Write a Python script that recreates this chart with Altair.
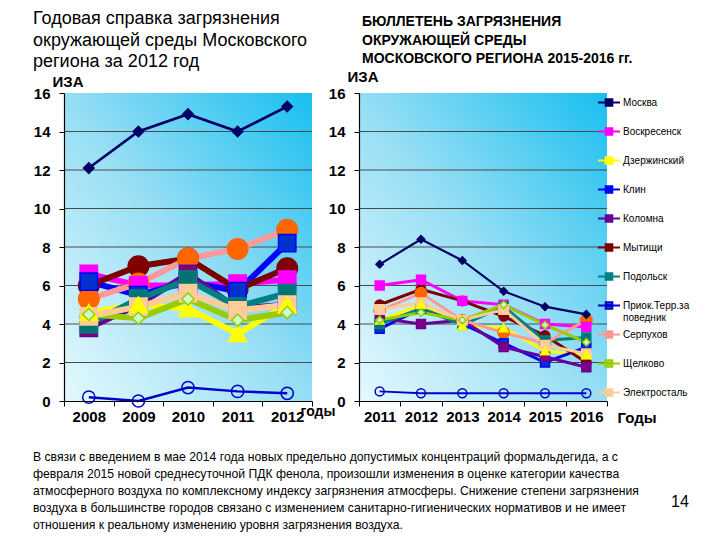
import altair as alt
import pandas as pd

FONT = "Liberation Sans"

series = ["Москва", "Воскресенск", "Дзержинский", "Клин", "Коломна", "Мытищи",
          "Подольск", "Приок.Терр.за поведник", "Серпухов", "Щелково", "Электросталь"]
line_colors = ["#000066", "#ff00ff", "#ffff00", "#0000ff", "#660099", "#7a0000",
               "#008080", "#0000cc", "#ff9999", "#99cc00", "#ffcc99"]
marker_fills = ["#000066", "#ff00ff", "#ffff00", "#0033cc", "#800080", "#800000",
                "#007373", "transparent", "#ff6600", "#ccffcc", "#ffcc99"]
marker_strokes = ["#000066", "#ff00ff", "#ffff00", "#0000ff", "#660099", "#7a0000",
                  "#008080", "#0000cc", "#ff6600", "#99cc00", "#ffcc99"]
shapes = ["diamond", "square", "triangle-up", "square", "square", "circle",
          "square", "circle", "circle", "diamond", "square"]

years_a = ["2008", "2009", "2010", "2011", "2012"]
vals_a = {
    "Москва": [12.1, 14.0, 14.9, 14.0, 15.3],
    "Воскресенск": [6.6, 6.0, 6.0, 6.1, 6.3],
    "Дзержинский": [4.6, 5.0, 4.8, 3.5, 5.0],
    "Клин": [6.2, 5.5, 6.2, 5.7, 8.2],
    "Коломна": [3.8, 5.0, 6.6, 4.8, 5.0],
    "Мытищи": [6.0, 7.0, 7.4, 5.8, 6.9],
    "Подольск": [4.0, 5.3, 6.3, 4.9, 5.6],
    "Приок.Терр.за поведник": [0.2, 0.0, 0.7, 0.5, 0.4],
    "Серпухов": [5.3, 6.1, 7.4, 7.9, 8.9],
    "Щелково": [4.5, 4.3, 5.3, 4.2, 4.6],
    "Электросталь": [4.4, 4.9, 5.6, 4.7, 5.0],
}

years_b = ["2011", "2012", "2013", "2014", "2015", "2016"]
vals_b = {
    "Москва": [7.1, 8.4, 7.3, 5.7, 4.9, 4.5],
    "Воскресенск": [6.0, 6.3, 5.2, 5.0, 4.0, 3.85],
    "Дзержинский": [4.2, 5.0, 3.9, 3.8, 2.6, 2.4],
    "Клин": [3.75, 4.8, 4.0, 3.0, 2.0, 2.8],
    "Коломна": [4.3, 4.0, 4.2, 2.8, 2.3, 1.75],
    "Мытищи": [5.0, 5.8, 5.2, 4.4, 3.4, 2.0],
    "Подольск": [4.0, 4.8, 3.95, 4.9, 3.15, 3.3],
    "Приок.Терр.за поведник": [0.5, 0.4, 0.4, 0.4, 0.4, 0.4],
    "Серпухов": [4.7, 5.6, 4.2, 3.55, 3.0, 4.2],
    "Щелково": [4.2, 4.6, 4.2, 5.0, 3.95, 3.05],
    "Электросталь": [4.75, 5.1, 4.2, 4.75, 2.9, 2.45],
}

widths_a = [2.6, 6, 6, 6, 6, 6, 6, 2.5, 6, 6, 6]
sizes_a = [110, 300, 330, 300, 300, 420, 300, 150, 420, 150, 300]
widths_b = [2.2, 3, 3, 3, 3, 3, 3, 2, 3, 3, 3]
sizes_b = [55, 80, 80, 80, 80, 90, 80, 80, 130, 55, 90]

grid_values = [2, 4, 6, 8, 10, 12, 14]
y_ticks = [0, 2, 4, 6, 8, 10, 12, 14, 16]

title_left = ["Годовая справка загрязнения", "окружающей среды Московского", "региона за 2012 год"]
title_right = ["БЮЛЛЕТЕНЬ ЗАГРЯЗНЕНИЯ", "ОКРУЖАЮЩЕЙ СРЕДЫ", "МОСКОВСКОГО РЕГИОНА 2015-2016 гг."]
note_lines = [
    "В связи с введением в мае 2014 года новых предельно допустимых концентраций формальдегида, а с",
    "февраля 2015 новой среднесуточной ПДК фенола, произошли изменения в оценке категории качества",
    "атмосферного воздуха по комплексному индексу загрязнения атмосферы. Снижение степени загрязнения",
    "воздуха в большинстве городов связано с изменением санитарно-гигиенических нормативов и не имеет",
    "отношения к реальному изменению уровня загрязнения воздуха.",
]
page_number = ["14"]


def long_df(years, vals):
    rows = []
    for s in series:
        for y, v in zip(years, vals[s]):
            rows.append({"series": s, "city": s, "year": y, "value": v})
    return pd.DataFrame(rows)


gradient = alt.LinearGradient(
    gradient="linear", x1=0, y1=1, x2=1, y2=0,
    stops=[alt.GradientStop(offset=0, color="#e4f9fd"),
           alt.GradientStop(offset=0.5, color="#95def4"),
           alt.GradientStop(offset=1, color="#18bff0")],
)

legend = alt.Legend(
    orient="none", legendX=533, legendY=-2.5, title=None, padding=0,
    labelFont=FONT, labelFontSize=10, labelColor="black", labelOffset=2,
    symbolType="M-1,0H1M-0.3,-0.3H0.3V0.3H-0.3ZM-0.3,-0.1H0.3M-0.3,0.1H0.3",
    symbolSize=484, symbolStrokeWidth=2, gridAlign="all", rowPadding=-4.8, labelLimit=200,
    labelExpr="datum.label == 'Приок.Терр.за поведник' ? ['Приок.Терр.за', 'поведник'] : datum.label",
)


def panel(df, years, widths, sizes, ytitle_xy, xtitle, xtitle_xy, xtitle_size, title, extra=None):
    x_axis = alt.Axis(
        title=xtitle, tickBand="extent", labelAngle=0, labelFont=FONT, labelFontSize=15,
        labelFontWeight="bold", labelColor="black", domainColor="black", tickColor="black",
        tickSize=5, labelPadding=3, titleX=xtitle_xy[0], titleY=xtitle_xy[1], titleAlign="left",
        titleBaseline="middle", titleFont=FONT, titleFontSize=xtitle_size, titleFontWeight="bold",
        titleColor="black", grid=False, zindex=1, domainWidth=1.2,
    )
    y_axis = alt.Axis(
        values=y_ticks, title="ИЗА", titleAngle=0, titleX=ytitle_xy[0], titleY=ytitle_xy[1],
        titleAlign="left", titleBaseline="middle", titleFont=FONT, titleFontSize=15,
        titleFontWeight="bold", titleColor="black", labelFont=FONT, labelFontSize=15,
        labelFontWeight="bold", labelColor="black", domainColor="black", tickColor="black",
        tickSize=5, labelPadding=9, grid=False, zindex=1, domainWidth=1.2,
    )
    xs = alt.Scale(type="band", domain=years, paddingInner=0, paddingOuter=0)
    ys = alt.Scale(domain=[0, 16], nice=False)

    bg = alt.Chart(pd.DataFrame({"a": [0]})).mark_rect(color=gradient).encode(
        x=alt.value(0), x2=alt.value("width"), y=alt.value(0), y2=alt.value("height"))
    grid = alt.Chart(pd.DataFrame({"g": grid_values})).mark_rule(color="#4a4a4a", strokeWidth=1).encode(
        y=alt.Y("g:Q", scale=ys, axis=y_axis), x=alt.value(0), x2=alt.value("width"))
    base = alt.Chart(df).encode(
        x=alt.X("year:O", scale=xs, axis=x_axis),
        y=alt.Y("value:Q", scale=ys, axis=y_axis),
    )
    lines = base.mark_line().encode(
        color=alt.Color("series:N", scale=alt.Scale(domain=series, range=line_colors), legend=legend,
                        sort=series),
        strokeWidth=alt.StrokeWidth("series:N", scale=alt.Scale(type="ordinal", domain=series, range=widths),
                                    legend=None),
        detail="series:N",
    )
    layers = [bg, grid, lines]
    for shp in ["circle", "square", "triangle-up", "diamond"]:
        members = [s for s, sh in zip(series, shapes) if sh == shp]
        layers.append(
            base.transform_filter(alt.FieldOneOfPredicate(field="city", oneOf=members))
            .mark_point(filled=True, opacity=1, strokeWidth=1.5, shape=shp)
            .encode(
                fill=alt.Fill("city:N", scale=alt.Scale(domain=series, range=marker_fills), legend=None),
                stroke=alt.Stroke("city:N", scale=alt.Scale(domain=series, range=marker_strokes), legend=None),
                size=alt.Size("city:N", scale=alt.Scale(type="ordinal", domain=series, range=sizes), legend=None),
            )
        )
    if extra is not None:
        layers.append(extra)
    return alt.layer(*layers).properties(width=248, height=308, title=title)


left_title = alt.TitleParams(text=title_left, anchor="start", frame="group", font=FONT, fontSize=18,
                             fontWeight="normal", color="black", lineHeight=21.5, dx=-31, offset=3)
right_title = alt.TitleParams(text=title_right, anchor="start", frame="group", font=FONT, fontSize=14,
                              fontWeight="bold", color="black", lineHeight=18.5, dx=3, offset=3)

num = alt.Chart(pd.DataFrame({"t": page_number})).mark_text(
    font=FONT, fontSize=16, color="black", align="center", baseline="middle").encode(
    text="t:N", x=alt.value(321), y=alt.value(409))

left = panel(long_df(years_a, vals_a), years_a, widths_a, sizes_a, (-12, -12), "годы", (236, 10), 14,
             left_title)
right = panel(long_df(years_b, vals_b), years_b, widths_b, sizes_b, (-12, -17), "Годы", (258, 16), 15,
              right_title, extra=num)

chart = alt.hconcat(left, right, spacing=47, bounds="flush").resolve_scale(
    strokeWidth="independent", size="independent"
).properties(
    title=alt.TitleParams(text=note_lines, orient="bottom", anchor="start", font=FONT, fontSize=12.2,
                          fontWeight="normal", color="black", lineHeight=17, offset=-59),
    padding={"left": 25, "top": 2, "right": 0, "bottom": 0},
    background="white",
).configure_view(stroke=None)

chart.save("out.html", embed_options={"renderer": "svg", "actions": False})
